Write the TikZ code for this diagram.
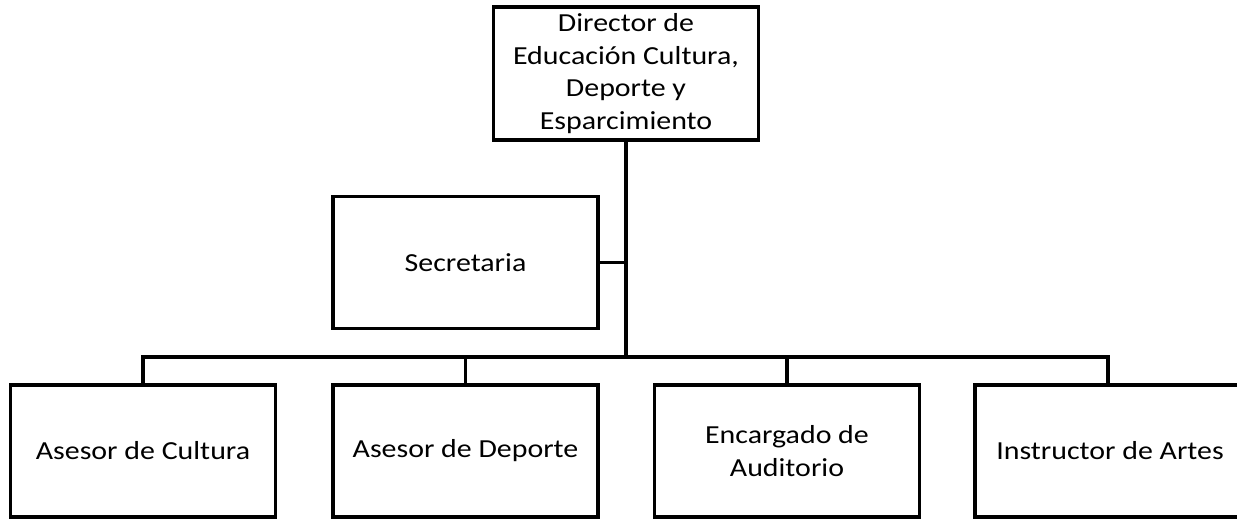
\documentclass[tikz,border=0pt]{standalone}
\usepackage{fontspec}
\setmainfont{Carlito}[FakeStretch=1.15]
\begin{document}
\begin{tikzpicture}[x=1pt,y=-1pt,
  box/.style={draw=black,line width=3.8pt,align=center,minimum width=265pt,minimum height=132pt,inner sep=2pt,
    font=\fontsize{26}{32.5}\selectfont},
  conn/.style={draw=black,line width=3.8pt}]
\useasboundingbox (0,0) rectangle (1237,519);
\node[box,minimum height=133pt] (dir) at (626,73.5) {Director de\\Educación Cultura,\\Deporte y\\Esparcimiento};
\node[box] (sec) at (465.5,262.5) {Secretaria};
\node[box] (b1) at (143,451) {Asesor de Cultura};
\node[box] (b2) at (465.5,451) {Asesor de Deporte};
\node[box] (b3) at (787,451) {Encargado de\\Auditorio};
\node[box,minimum width=270pt] (b4) at (1110,451) {Instructor de Artes};
\coordinate (bus) at (626,357);
\draw[conn] (dir.south) -- (bus);
\draw[conn] (sec.east) -- (sec.east -| bus);
\draw[conn] (bus) -| (b1.north);
\draw[conn] (bus) -| (b2.north);
\draw[conn] (bus) -| (b3.north);
\draw[conn] (bus) -| ([xshift=-2pt]b4.north);
\end{tikzpicture}
\end{document}
